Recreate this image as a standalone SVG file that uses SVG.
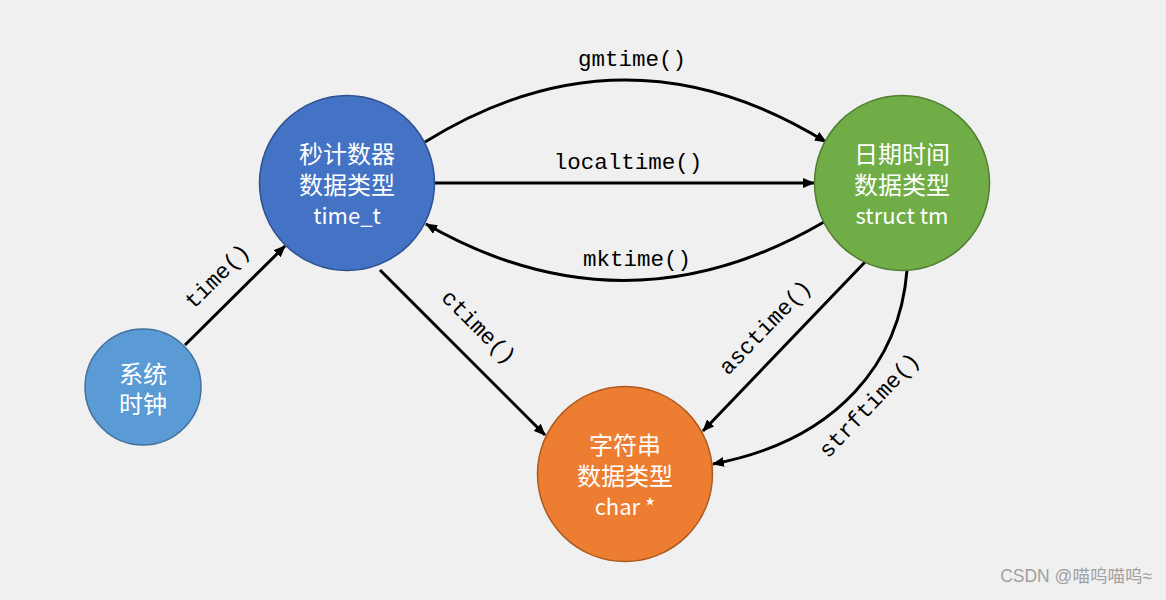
<svg xmlns="http://www.w3.org/2000/svg" width="1166" height="600" viewBox="0 0 1166 600">
<defs>
<marker id="ah" viewBox="0 0 12 10" refX="11" refY="5" markerWidth="12" markerHeight="10" markerUnits="userSpaceOnUse" orient="auto">
<path d="M0,0 L12,5 L0,10 z" fill="#000"/>
</marker>
<style>
.node text{font-family:"Noto Sans CJK SC","Microsoft YaHei",sans-serif;fill:#fff;text-anchor:middle;dominant-baseline:central}
.cn{font-size:24px}
.en{font-size:22px;font-family:"Noto Sans","Noto Sans CJK SC",sans-serif}
.edge{fill:none;stroke:#000;stroke-width:3;marker-end:url(#ah)}
.lbl{font-family:"Liberation Mono","DejaVu Sans Mono",monospace;font-size:22.5px;fill:#000;text-anchor:middle;dominant-baseline:central}
</style>
</defs>
<rect width="1166" height="600" fill="#F0F0F0"/>
<g id="connectors">
<path class="edge" d="M185,345 L285,246"/>
<path class="edge" d="M425,142 Q625,18 826,142"/>
<path class="edge" d="M435,183 L814,183"/>
<path class="edge" d="M824,222 Q625,338 426,224"/>
<path class="edge" d="M380,270 L545,435"/>
<path class="edge" d="M865,262 L703,431"/>
<path class="edge" d="M907,270 C900,360 840,440 713,464"/>
<text class="lbl" transform="translate(218,277) rotate(-44.7)">time()</text>
<text class="lbl" x="632" y="60">gmtime()</text>
<text class="lbl" x="628" y="163">localtime()</text>
<text class="lbl" x="637" y="260">mktime()</text>
<text class="lbl" transform="translate(478,328) rotate(45)">ctime()</text>
<text class="lbl" transform="translate(766,328) rotate(-46)">asctime()</text>
<text class="lbl" transform="translate(870,406) rotate(-46.5)">strftime()</text>
</g>
<g id="node-time_t" class="node">
<circle cx="347" cy="183" r="87.5" fill="#4472C4" stroke="#2F528F" stroke-width="1.5"/>
<text class="cn" x="347" y="152">秒计数器</text>
<text class="cn" x="347" y="183">数据类型</text>
<text class="en" x="347" y="214">time_t</text>
</g>
<g id="node-tm" class="node">
<circle cx="902" cy="183" r="87.5" fill="#70AD47" stroke="#507E32" stroke-width="1.5"/>
<text class="cn" x="902" y="152">日期时间</text>
<text class="cn" x="902" y="183">数据类型</text>
<text class="en" x="902" y="214">struct tm</text>
</g>
<g id="node-char" class="node">
<circle cx="625" cy="474" r="87.5" fill="#ED7D31" stroke="#AE5A21" stroke-width="1.5"/>
<text class="cn" x="625" y="443">字符串</text>
<text class="cn" x="625" y="474">数据类型</text>
<text class="en" x="625" y="505">char *</text>
</g>
<g id="node-clock" class="node">
<circle cx="143" cy="387" r="58" fill="#5B9BD5" stroke="#41719C" stroke-width="1.5"/>
<text class="cn" x="143" y="372">系统</text>
<text class="cn" x="143" y="402">时钟</text>
</g>
<text x="1152" y="582" font-family="'Liberation Sans','Noto Sans CJK SC',sans-serif" font-size="17.5" fill="#A0A0A0" text-anchor="end">CSDN @喵呜喵呜≈</text>
</svg>
